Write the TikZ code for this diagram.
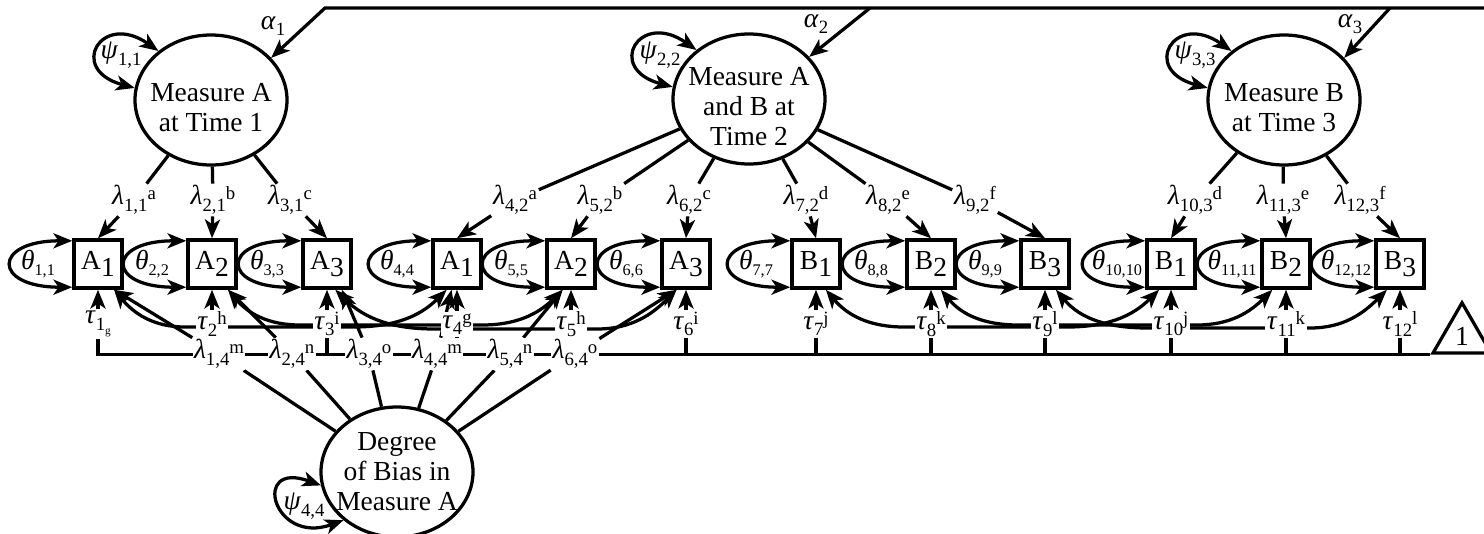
\documentclass[tikz,border=0pt]{standalone}
\usepackage{fontspec}
\setmainfont{Liberation Serif}
\usepackage{tikz}
\usetikzlibrary{arrows.meta, shapes.geometric, backgrounds}

% index sizes for the parameter labels
\newcommand{\pidx}{\fontsize{7.5pt}{8pt}\selectfont}
\newcommand{\tpidx}{\fontsize{6.5pt}{7pt}\selectfont}
% parameter: symbol, index, equality letter
\newcommand{\parm}[3]{\textit{#1}\raisebox{-2.6pt}{\pidx #2}\raisebox{2pt}{\pidx #3}}
% residual variances (smaller index)
\newcommand{\thlab}[1]{\textit{θ}\raisebox{-2.2pt}{\tpidx #1}}
% indicator names with a lowered number
\newcommand{\obsl}[2]{#1\raisebox{-3pt}{#2}}

\begin{document}
\begin{tikzpicture}[
        x=0.4pt, y=0.4pt,
        font=\fontsize{11pt}{12pt}\selectfont,
        % Latent factors
        latent/.style={
            ellipse, draw, line width=1.3pt,
            minimum width=60.8pt, minimum height=52pt,
            inner sep=0pt
        },
        % Text inside the factors
        ftext/.style={align=center},
        % Observed indicators
        obsbox/.style={
            rectangle, draw, line width=1.4pt,
            minimum size=19.2pt, inner sep=0pt
        },
        % Constant for the mean structure
        const/.style={
            regular polygon, regular polygon sides=3,
            draw, line width=1.3pt, minimum size=26.8pt, inner sep=0pt
        },
        % Parameter labels sit on top of the paths
        plab/.style={fill=white, inner sep=0.6pt},
        % Paths
        link/.style={line width=1.3pt},
        reg/.style={link, -{Stealth[length=7.5pt, width=6pt, inset=2pt]}},
        cov/.style={link, {Stealth[length=7.5pt, width=6pt, inset=2pt]}-{Stealth[length=7.5pt, width=6pt, inset=2pt]}}
    ]

        \useasboundingbox (0,0) rectangle (1484,-533);
        \clip (0,0) rectangle (1484,-533);

        % Factors
        \node[latent, label={[ftext, yshift=-3pt]center:Measure A\\at Time 1}] (T1) at (211,-100) {};
        \node[latent, label={[ftext, yshift=-3pt]center:Measure A\\and B at\\Time 2}] (T2) at (749,-99) {};
        \node[latent, label={[ftext, yshift=-3pt]center:Measure B\\at Time 3}] (T3) at (1284,-100) {};
        \node[latent, label={[ftext]center:Degree\\of Bias in\\Measure A}] (Bias) at (397,-472) {};

        % Indicators
        \node[obsbox] (A1t1) at (98,-264) {\obsl{A}{1}};
        \node[obsbox] (A2t1) at (212,-264) {\obsl{A}{2}};
        \node[obsbox] (A3t1) at (327,-264) {\obsl{A}{3}};
        \node[obsbox] (A1t2) at (457,-264) {\obsl{A}{1}};
        \node[obsbox] (A2t2) at (571,-264) {\obsl{A}{2}};
        \node[obsbox] (A3t2) at (686,-264) {\obsl{A}{3}};
        \node[obsbox] (B1t2) at (816,-264) {\obsl{B}{1}};
        \node[obsbox] (B2t2) at (931,-264) {\obsl{B}{2}};
        \node[obsbox] (B3t2) at (1045,-264) {\obsl{B}{3}};
        \node[obsbox] (B1t3) at (1171,-264) {\obsl{B}{1}};
        \node[obsbox] (B2t3) at (1286,-264) {\obsl{B}{2}};
        \node[obsbox] (B3t3) at (1400,-264) {\obsl{B}{3}};

        % Constant
        \node[const] (One) at (1462,-336.3) {\raisebox{-2pt}{1}};

        % Loadings (labels)
        \node[plab] (l11) at (134,-200) {\parm{λ}{1,1}{a}};
        \node[plab] (l21) at (213,-200) {\parm{λ}{2,1}{b}};
        \node[plab] (l31) at (290,-200) {\parm{λ}{3,1}{c}};
        \node[plab] (l42) at (515,-200) {\parm{λ}{4,2}{a}};
        \node[plab] (l52) at (600,-200) {\parm{λ}{5,2}{b}};
        \node[plab] (l62) at (689,-200) {\parm{λ}{6,2}{c}};
        \node[plab] (l72) at (806,-200) {\parm{λ}{7,2}{d}};
        \node[plab] (l82) at (888,-200) {\parm{λ}{8,2}{e}};
        \node[plab] (l92) at (975,-200) {\parm{λ}{9,2}{f}};
        \node[plab] (l103) at (1195,-200) {\parm{λ}{10,3}{d}};
        \node[plab] (l113) at (1283,-200) {\parm{λ}{11,3}{e}};
        \node[plab] (l123) at (1360,-200) {\parm{λ}{12,3}{f}};

        % Bias loadings (labels)
        \node[plab] (l14) at (219,-354) {\parm{λ}{1,4}{m}};
        \node[plab] (l24) at (292,-354) {\parm{λ}{2,4}{n}};
        \node[plab] (l34) at (369,-354) {\parm{λ}{3,4}{o}};
        \node[plab] (l44) at (437,-354) {\parm{λ}{4,4}{m}};
        \node[plab] (l54) at (510,-354) {\parm{λ}{5,4}{n}};
        \node[plab] (l64) at (575,-354) {\parm{λ}{6,4}{o}};

        % Intercepts (labels)
        \node[plab] (t1) at (98,-324) {\parm{τ}{1\raisebox{-1.5pt}{\fontsize{4.5pt}{5pt}\selectfont g}}{}};
        \node[plab] (t2) at (212,-324) {\parm{τ}{2}{h}};
        \node[plab] (t3) at (327,-324) {\parm{τ}{3}{i}};
        \node[plab] (t4) at (457,-324) {\parm{τ}{4}{g}};
        \node[plab] (t5) at (571,-324) {\parm{τ}{5}{h}};
        \node[plab] (t6) at (686,-324) {\parm{τ}{6}{i}};
        \node[plab] (t7) at (816,-324) {\parm{τ}{7}{j}};
        \node[plab] (t8) at (931,-324) {\parm{τ}{8}{k}};
        \node[plab] (t9) at (1045,-324) {\parm{τ}{9}{l}};
        \node[plab] (t10) at (1171,-324) {\parm{τ}{10}{j}};
        \node[plab] (t11) at (1286,-324) {\parm{τ}{11}{k}};
        \node[plab] (t12) at (1400,-324) {\parm{τ}{12}{l}};

        % Residual variances (labels)
        \node (th1) at (38,-264) {\thlab{1,1}};
        \node (th2) at (152,-264) {\thlab{2,2}};
        \node (th3) at (267,-264) {\thlab{3,3}};
        \node (th4) at (397,-264) {\thlab{4,4}};
        \node (th5) at (511,-264) {\thlab{5,5}};
        \node (th6) at (626,-264) {\thlab{6,6}};
        \node (th7) at (756,-264) {\thlab{7,7}};
        \node (th8) at (871,-264) {\thlab{8,8}};
        \node (th9) at (985,-264) {\thlab{9,9}};
        \node (th10) at (1117,-264) {\thlab{10,10}};
        \node (th11) at (1232,-264) {\thlab{11,11}};
        \node (th12) at (1346,-264) {\thlab{12,12}};

        % Factor variances and means (labels)
        \node (ps1) at (121,-55) {\parm{ψ}{1,1}{}};
        \node (ps2) at (660,-55) {\parm{ψ}{2,2}{}};
        \node (ps3) at (1195,-55) {\parm{ψ}{3,3}{}};
        \node (ps4) at (304,-506) {\parm{ψ}{4,4}{}};
        \node (al1) at (273,-26) {\parm{α}{1}{}};
        \node (al2) at (816,-24) {\parm{α}{2}{}};
        \node (al3) at (1350,-24) {\parm{α}{3}{}};

        % Means from the constant
        \coordinate (topR) at (1500,-8);
        \coordinate (a1) at (325,-8);
        \coordinate (a2) at (870,-8);
        \coordinate (a3) at (1390,-8);
        \draw[reg] (One.corner 3) -| (topR) -- (a1) -- (T1.35);
        \draw[reg] (a2) -- (T2.35);
        \draw[reg] (a3) -- (T3.35);

        % Factor variances
        \draw[cov] (T1.137) to[out=145, in=165, distance=28pt] (T1.171);
        \draw[cov] (T2.137) to[out=145, in=165, distance=28pt] (T2.171);
        \draw[cov] (T3.137) to[out=145, in=165, distance=28pt] (T3.171);
        \draw[cov] (Bias.190) to[out=160, in=200, distance=30pt] (Bias.222);

        % Residual variances
        \draw[cov] (A1t1.138) to[out=180, in=180, distance=32pt] (A1t1.222);
        \draw[cov] (A2t1.138) to[out=180, in=180, distance=32pt] (A2t1.222);
        \draw[cov] (A3t1.138) to[out=180, in=180, distance=32pt] (A3t1.222);
        \draw[cov] (A1t2.138) to[out=180, in=180, distance=32pt] (A1t2.222);
        \draw[cov] (A2t2.138) to[out=180, in=180, distance=32pt] (A2t2.222);
        \draw[cov] (A3t2.138) to[out=180, in=180, distance=32pt] (A3t2.222);
        \draw[cov] (B1t2.138) to[out=180, in=180, distance=32pt] (B1t2.222);
        \draw[cov] (B2t2.138) to[out=180, in=180, distance=32pt] (B2t2.222);
        \draw[cov] (B3t2.138) to[out=180, in=180, distance=32pt] (B3t2.222);
        \draw[cov] (B1t3.138) to[out=180, in=180, distance=32pt] (B1t3.222);
        \draw[cov] (B2t3.138) to[out=180, in=180, distance=32pt] (B2t3.222);
        \draw[cov] (B3t3.138) to[out=180, in=180, distance=32pt] (B3t3.222);

        % Loadings
        \draw[link] (T1) -- (l11);  \draw[reg] (l11) -- (A1t1.north);
        \draw[link] (T1) -- (l21);  \draw[reg] (l21) -- (A2t1.north);
        \draw[link] (T1) -- (l31);  \draw[reg] (l31) -- (A3t1.north);
        \draw[link] (T2) -- (l42);  \draw[reg] (l42) -- (A1t2.north);
        \draw[link] (T2) -- (l52);  \draw[reg] (l52) -- (A2t2.north);
        \draw[link] (T2) -- (l62);  \draw[reg] (l62) -- (A3t2.north);
        \draw[link] (T2) -- (l72);  \draw[reg] (l72) -- (B1t2.north);
        \draw[link] (T2) -- (l82);  \draw[reg] (l82) -- (B2t2.north);
        \draw[link] (T2) -- (l92);  \draw[reg] (l92) -- (B3t2.north);
        \draw[link] (T3) -- (l103); \draw[reg] (l103) -- (B1t3.north);
        \draw[link] (T3) -- (l113); \draw[reg] (l113) -- (B2t3.north);
        \draw[link] (T3) -- (l123); \draw[reg] (l123) -- (B3t3.north);

        % Intercepts
        \draw[reg] (t1) -- (A1t1);
        \draw[reg] (t2) -- (A2t1);
        \draw[reg] (t3) -- (A3t1);
        \draw[reg] (t4) -- (A1t2);
        \draw[reg] (t5) -- (A2t2);
        \draw[reg] (t6) -- (A3t2);
        \draw[reg] (t7) -- (B1t2);
        \draw[reg] (t8) -- (B2t2);
        \draw[reg] (t9) -- (B3t2);
        \draw[reg] (t10) -- (B1t3);
        \draw[reg] (t11) -- (B2t3);
        \draw[reg] (t12) -- (B3t3);

        \begin{scope}[on background layer]
            % Baseline from the constant to the intercepts
            \coordinate (cnr) at (t1 |- One.corner 2);
            \draw[link] (One.corner 2) -- (cnr) -- (t1);
            \draw[link] (t2) -- (t2 |- cnr);
            \draw[link] (t3) -- (t3 |- cnr);
            \draw[link] (t4) -- (t4 |- cnr);
            \draw[link] (t5) -- (t5 |- cnr);
            \draw[link] (t6) -- (t6 |- cnr);
            \draw[link] (t7) -- (t7 |- cnr);
            \draw[link] (t8) -- (t8 |- cnr);
            \draw[link] (t9) -- (t9 |- cnr);
            \draw[link] (t10) -- (t10 |- cnr);
            \draw[link] (t11) -- (t11 |- cnr);
            \draw[link] (t12) -- (t12 |- cnr);

            % Residual covariances over time
            \draw[cov] (A1t1.-58) to[out=-50, in=180] (185,-327) -- (353,-327) to[out=0, in=-135] (A1t2.-112);
            \draw[cov] (A2t1.-58) to[out=-50, in=180] (300,-325) -- (482,-325) to[out=0, in=-135] (A2t2.-108);
            \draw[cov] (A3t1.-72) to[out=-45, in=180] (435,-329) -- (597,-329) to[out=0, in=-135] (A3t2.-110);
            \draw[cov] (B1t2.-69) to[out=-50, in=180] (904,-327) -- (1067,-327) to[out=0, in=-135] (B1t3.-115);
            \draw[cov] (B2t2.-69) to[out=-50, in=180] (1018,-325) -- (1197,-325) to[out=0, in=-135] (B2t3.-118);
            \draw[cov] (B3t2.-67) to[out=-50, in=180] (1148,-328) -- (1310,-328) to[out=0, in=-135] (B3t3.-117);

            % Bias loadings
            \draw[link] (Bias) -- (l14); \draw[reg] (l14) -- (A1t1.-58);
            \draw[link] (Bias) -- (l24); \draw[reg] (l24) -- (A2t1.-58);
            \draw[link] (Bias) -- (l34); \draw[reg] (l34) -- (A3t1.-60);
            \draw[link] (Bias) -- (l44); \draw[reg] (l44) -- (A1t2.-102);
            \draw[link] (Bias) -- (l54); \draw[reg] (l54) -- (A2t2.-108);
            \draw[link] (Bias) -- (l64); \draw[reg] (l64) -- (A3t2.-110);
        \end{scope}

    \end{tikzpicture}
\end{document}
